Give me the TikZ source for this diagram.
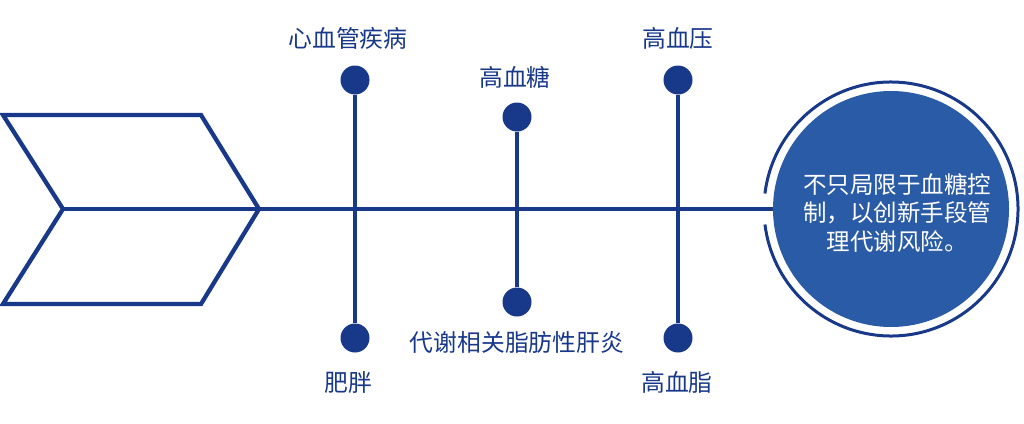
\documentclass[tikz,border=0pt]{standalone}
\usepackage{fontspec}
\setmainfont{Noto Sans CJK SC}
\definecolor{navy}{HTML}{18388A}
\definecolor{disc}{HTML}{2A5BA6}
\begin{document}
\begin{tikzpicture}[x=1pt,y=-1pt,
  knob/.style={circle,fill=navy,inner sep=0pt,minimum size=29pt},
  lbl/.style={text=navy,font=\fontsize{23.8}{28}\selectfont,inner sep=0pt}]
\useasboundingbox (0,0) rectangle (1024,423);
% tail of the arrow
\coordinate (tail) at (63,209);
\coordinate (tip) at (259,209);
\draw[navy,line width=4.3pt,line join=miter] (3,115) -- (201,115) -- (tip) -- (201,304) -- (3,304) -- (tail) -- cycle;
% goal disc with its ring
\node[circle,fill=disc,inner sep=0pt,minimum size=236pt] (goal) at (891,209) {};
\draw[navy,line width=3pt] (goal.center) ++(187:127) arc[start angle=187,end angle=533,radius=127];
\draw[navy,line width=4.3pt] (tail) -- (goal.west);
\node[text=white,align=center,inner sep=0pt,font=\fontsize{23.5}{28.5}\selectfont] (goaltext) at (897,213)
  {不只局限于血糖控\\制，以创新手段管\\理代谢风险。};
% stems
\foreach \nm/\x/\yt/\yb in {cvd/355/80/338, glu/517/117/302, bp/678/80/338}
{
  \node[knob] (\nm top) at (\x,\yt) {};
  \node[knob] (\nm bot) at (\x,\yb) {};
  \draw[navy,line width=4.3pt] (\nm top) -- (\nm bot);
}
% labels
\node[lbl] (cvdlbl) at (348,38) {心血管疾病};
\node[lbl] (glulbl) at (515,77) {高血糖};
\node[lbl] (bplbl) at (678,38) {高血压};
\node[lbl] (obelbl) at (348,382) {肥胖};
\node[lbl] (liverlbl) at (517,342) {代谢相关脂肪性肝炎};
\node[lbl] (lipidlbl) at (677,382) {高血脂};
\end{tikzpicture}
\end{document}
